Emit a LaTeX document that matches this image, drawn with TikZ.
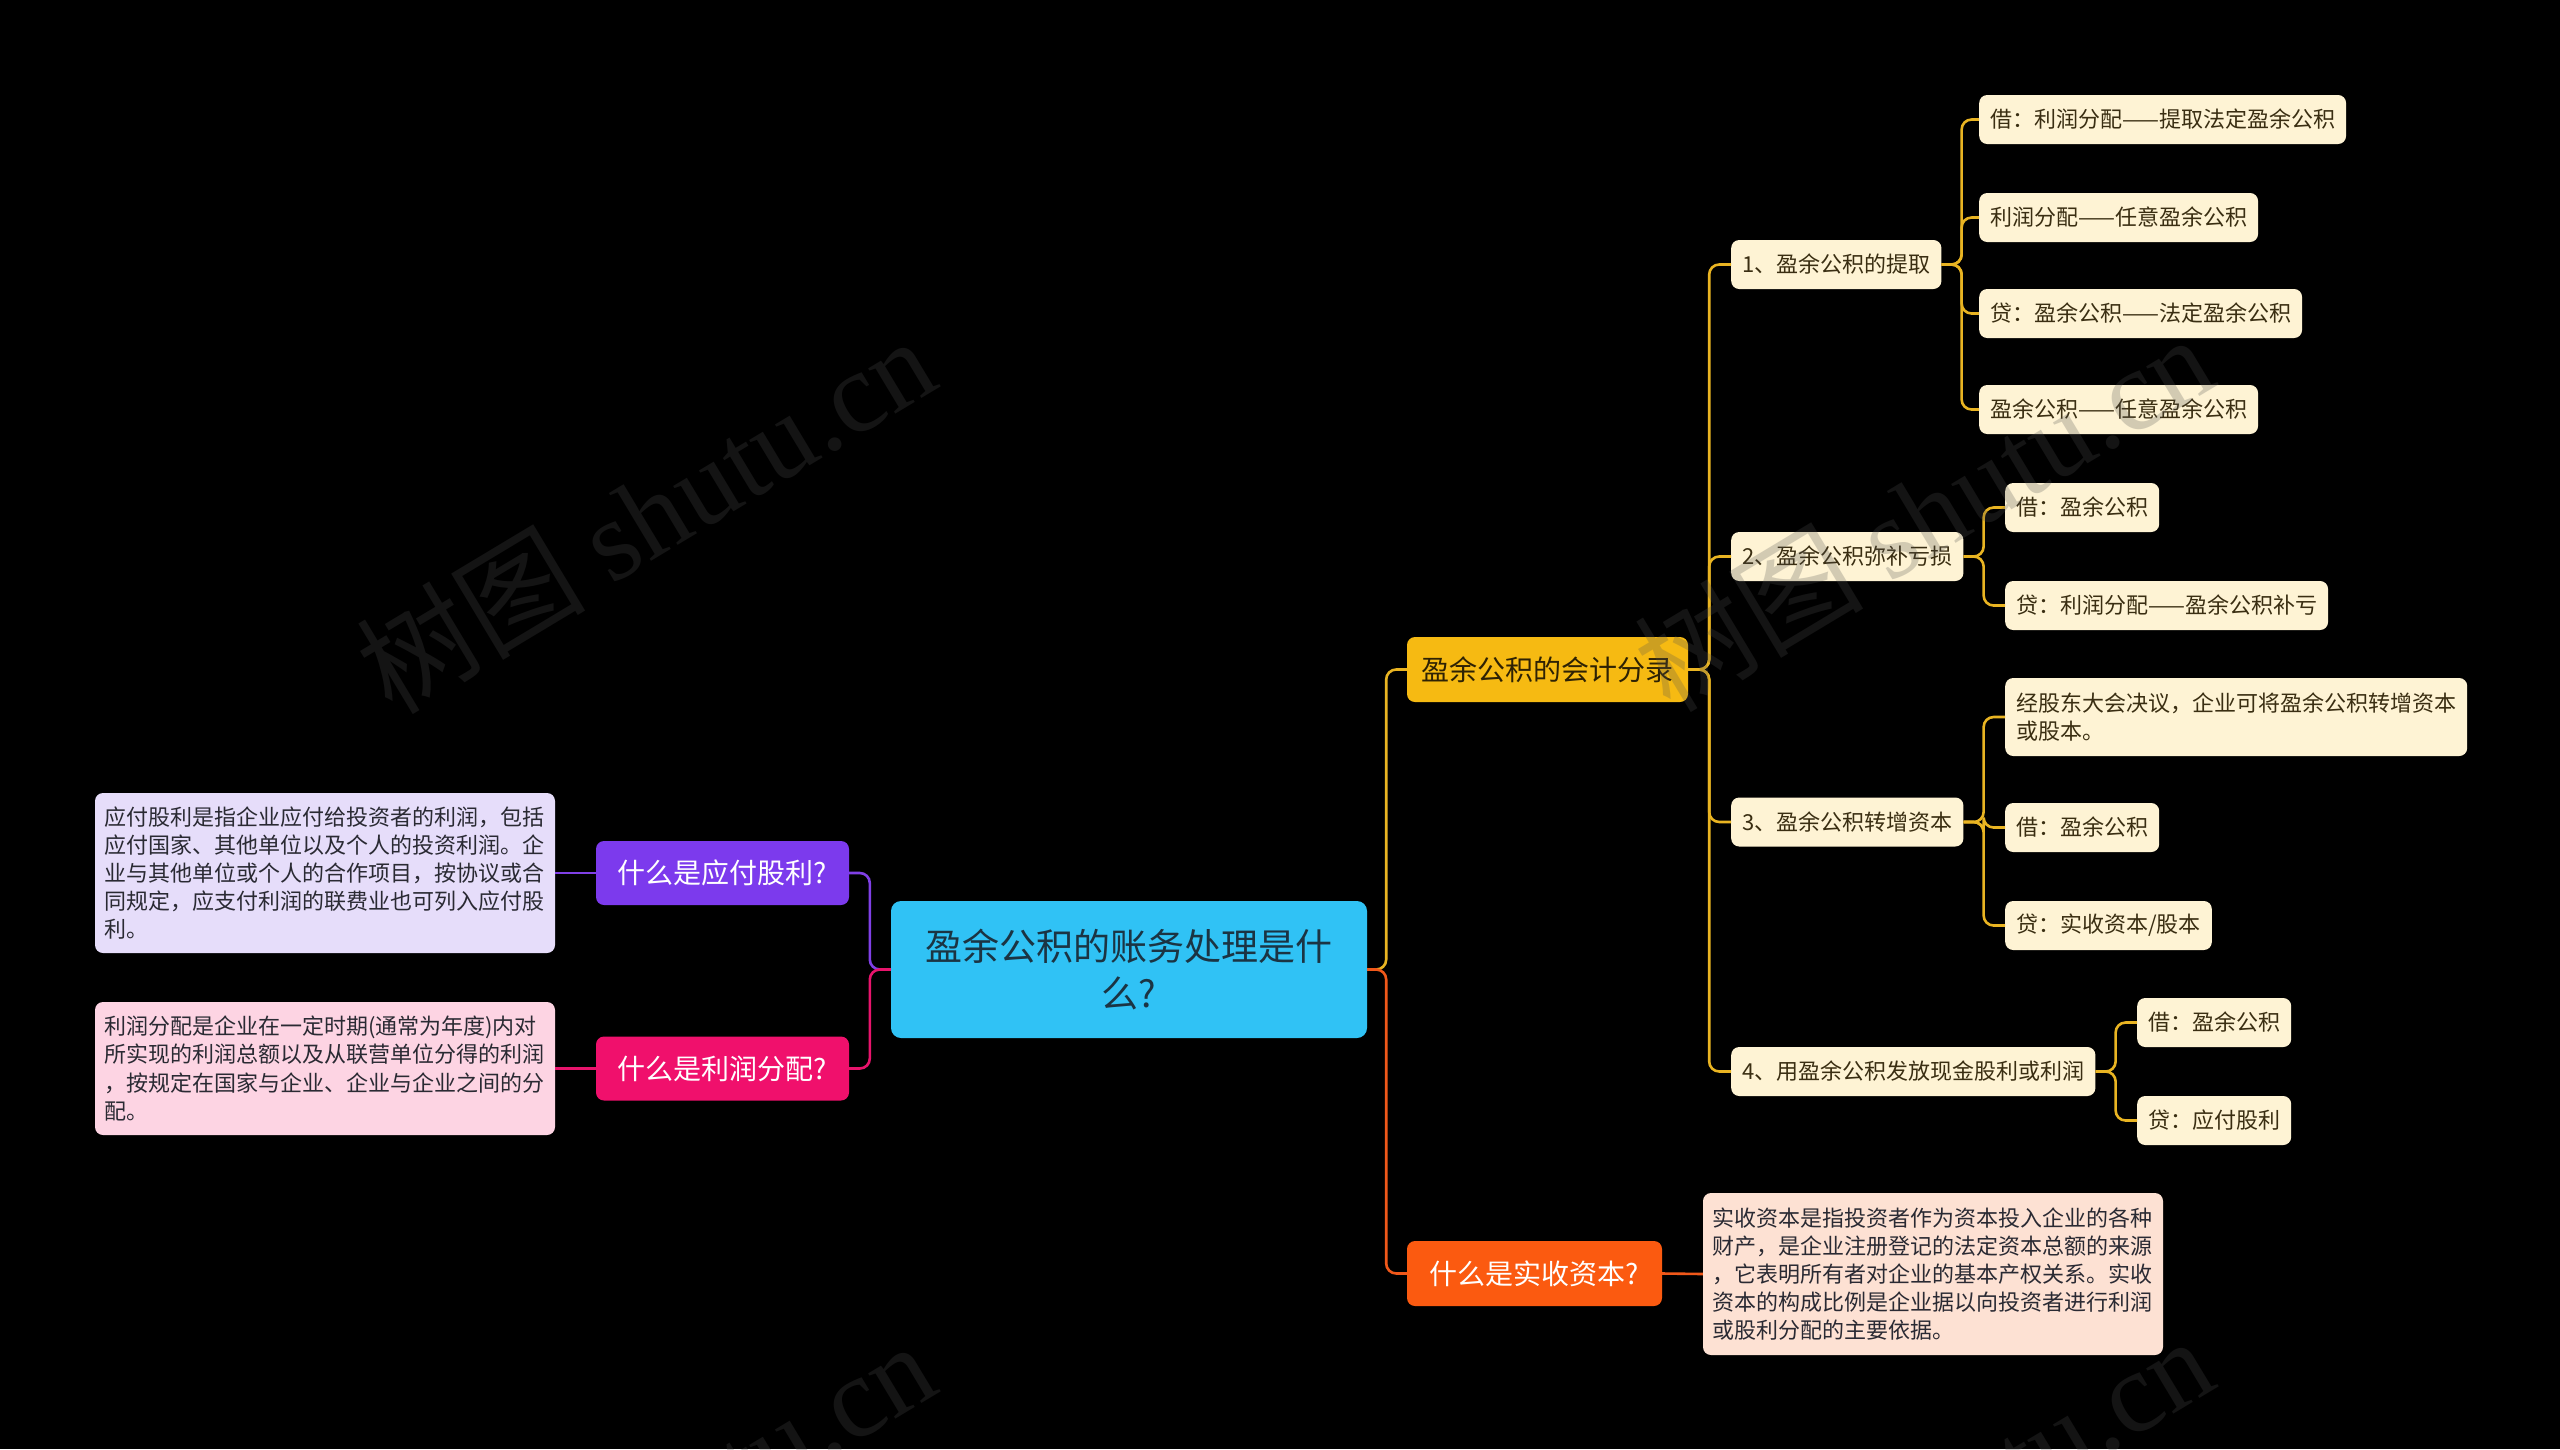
\documentclass[tikz,border=0pt]{standalone}
\usepackage{fontspec}
\setmainfont{Noto Sans CJK SC}
\newfontfamily\wmlatin{Liberation Serif}
\definecolor{cyanc}{HTML}{30C2F5}
\definecolor{cyantext}{HTML}{1B3443}
\definecolor{purc}{HTML}{7C3AED}
\definecolor{pinkc}{HTML}{F0106C}
\definecolor{lavc}{HTML}{E6DDFA}
\definecolor{lpinkc}{HTML}{FDD4E3}
\definecolor{yelc}{HTML}{F6BA12}
\definecolor{yeltext}{HTML}{2E2204}
\definecolor{orac}{HTML}{FB5A10}
\definecolor{lorac}{HTML}{FDE1D3}
\definecolor{creamc}{HTML}{FEF3D4}
\definecolor{creamtext}{HTML}{3A2E12}
\definecolor{boxtext}{HTML}{2A2A33}
\definecolor{ylinec}{HTML}{E9B422}
\definecolor{plinec}{HTML}{8040E6}
\definecolor{pklinec}{HTML}{E8146C}
\definecolor{olinec}{HTML}{F0581A}
\definecolor{wmgray}{HTML}{505050}
\begin{document}
\begin{tikzpicture}[x=1pt,y=-1pt,
  base/.style={rectangle, rounded corners=8pt, inner sep=0pt},
  leaf/.style={base, fill=creamc, text=creamtext, font=\fontsize{22}{28}\selectfont, inner xsep=11pt, minimum height=49pt, anchor=west, align=left},
  mainbox/.style={base, rounded corners=10pt, fill=cyanc, text=cyantext, font=\fontsize{37}{47}\selectfont, align=center, minimum width=476pt, minimum height=137pt},
  topic/.style={base, font=\fontsize{28}{34}\selectfont, minimum height=64pt, align=center},
  note/.style={base, text=boxtext, font=\fontsize{22}{28.2}\selectfont, text width=442pt, inner xsep=9pt, align=left},
  conn/.style={line width=2.6pt, rounded corners=10pt},
  yline/.style={conn, draw=ylinec},
  oline/.style={conn, draw=olinec},
  pline/.style={conn, draw=plinec},
  pkline/.style={conn, draw=pklinec},
  wm/.style={text=wmgray, opacity=0.25, font=\fontsize{115}{115}\selectfont, rotate=31}
]
\useasboundingbox (0,0) rectangle (2560,1449);
\fill[black] (0,0) rectangle (2560,1449);

% central
\node[mainbox] (central) at (1129,969.5) {盈余公积的账务处理是什\\么?};

% left side
\node[topic, fill=purc, text=white, minimum width=253pt] (pur) at (722.5,873) {什么是应付股利?};
\node[topic, fill=pinkc, text=white, minimum width=253pt] (pnk) at (722.5,1068.5) {什么是利润分配?};
\node[note, fill=lavc, minimum height=160pt] (lav) at (325,873) {应付股利是指企业应付给投资者的利润，包括\\应付国家、其他单位以及个人的投资利润。企\\业与其他单位或个人的合作项目，按协议或合\\同规定，应支付利润的联费业也可列入应付股\\利。};
\node[note, fill=lpinkc, minimum height=133pt] (lpk) at (325,1068.5) {利润分配是企业在一定时期(通常为年度)内对\\所实现的利润总额以及从联营单位分得的利润\\，按规定在国家与企业、企业与企业之间的分\\配。};

% right side
\node[topic, fill=yelc, text=yeltext, minimum width=281pt, minimum height=65pt] (yel) at (1547.5,669.5) {盈余公积的会计分录};
\node[topic, fill=orac, text=white, minimum width=255pt, minimum height=65pt] (ora) at (1534.5,1273.5) {什么是实收资本?};
\node[note, fill=lorac, minimum height=162pt] (obox) at (1933,1274) {实收资本是指投资者作为资本投入企业的各种\\财产，是企业注册登记的法定资本总额的来源\\，它表明所有者对企业的基本产权关系。实收\\资本的构成比例是企业据以向投资者进行利润\\或股利分配的主要依据。};

% level 2
\node[leaf] (L1) at (1731,264.5) {1、盈余公积的提取};
\node[leaf] (L2) at (1731,556.5) {2、盈余公积弥补亏损};
\node[leaf] (L3) at (1731,822) {3、盈余公积转增资本};
\node[leaf] (L4) at (1731,1071.5) {4、用盈余公积发放现金股利或利润};

% level 3
\node[leaf] (A1) at (1979,119.5) {借：利润分配——提取法定盈余公积};
\node[leaf] (A2) at (1979,217.5) {利润分配——任意盈余公积};
\node[leaf] (A3) at (1979,313.5) {贷：盈余公积——法定盈余公积};
\node[leaf] (A4) at (1979,409.5) {盈余公积——任意盈余公积};
\node[leaf] (B1) at (2005,507.5) {借：盈余公积};
\node[leaf] (B2) at (2005,605.5) {贷：利润分配——盈余公积补亏};
\node[leaf, minimum height=78pt] (C1) at (2005,717) {经股东大会决议，企业可将盈余公积转增资本\\或股本。};
\node[leaf] (C2) at (2005,827.5) {借：盈余公积};
\node[leaf] (C3) at (2005,925.5) {贷：实收资本/股本};
\node[leaf] (D1) at (2137,1022.5) {借：盈余公积};
\node[leaf] (D2) at (2137,1120.5) {贷：应付股利};

% connectors
\draw[yline] (central.east) -- ++(19,0) |- (yel.west);
\draw[oline] (central.east) -- ++(19,0) |- (ora.west);
\draw[oline] (ora.east) -- (obox.west);
\draw[pline] (central.west) -- ++(-21,0) |- (pur.east);
\draw[pkline] (central.west) -- ++(-21,0) |- (pnk.east);
\draw[pline] (pur.west) -- (lav.east);
\draw[pkline] (pnk.west) -- (lpk.east);

\foreach \c in {L1,L2,L3,L4} \draw[yline] (yel.east) -- ++(21,0) |- (\c.west);
\foreach \c in {A1,A2,A3,A4} \draw[yline] (L1.east) -- ++(20,0) |- (\c.west);
\foreach \c in {B1,B2} \draw[yline] (L2.east) -- ++(20,0) |- (\c.west);
\foreach \c in {C1,C2,C3} \draw[yline] (L3.east) -- ++(20,0) |- (\c.west);
\foreach \c in {D1,D2} \draw[yline] (L4.east) -- ++(20,0) |- (\c.west);

% watermarks
\node[wm] (wm1) at (645,514) {树图 {\wmlatin shutu.cn}};
\node[wm] (wm2) at (1923,512) {树图 {\wmlatin shutu.cn}};
\node[wm] (wm3) at (645,1519) {树图 {\wmlatin shutu.cn}};
\node[wm] (wm4) at (1923,1514) {树图 {\wmlatin shutu.cn}};
\end{tikzpicture}
\end{document}
